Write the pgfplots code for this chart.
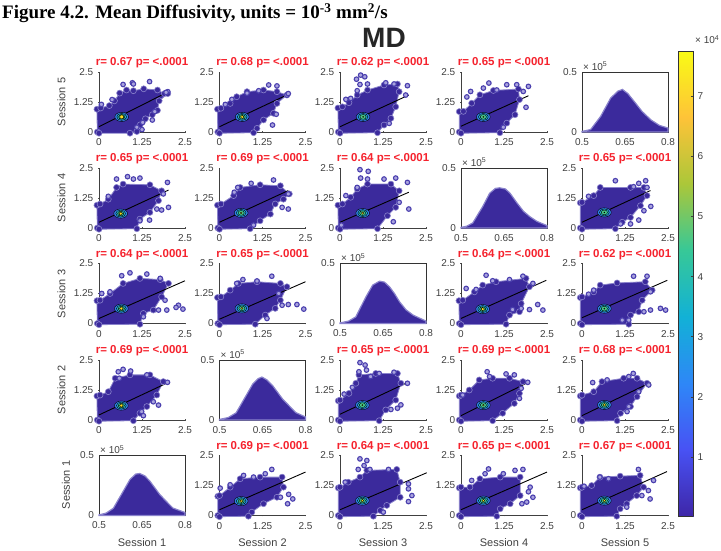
\documentclass[border=0pt]{standalone}
\usepackage{fontspec}
\usepackage{pgfplots}
\pgfplotsset{compat=1.18}
\setmainfont{Liberation Sans}
\newfontfamily\serf{Liberation Serif}
\definecolor{body}{HTML}{3B2A9C}
\definecolor{haze}{HTML}{8A83CC}
\definecolor{ring}{HTML}{4A3FAE}
\definecolor{pale}{HTML}{A9A3DE}
\definecolor{tk}{HTML}{404040}
\definecolor{redt}{HTML}{F5222D}
\definecolor{hb}{HTML}{2F7FE8}
\definecolor{hc}{HTML}{20B8D0}
\definecolor{hg}{HTML}{48C888}
\definecolor{hy}{HTML}{F8E020}
\newcommand\tickf{\fontsize{10}{11}\selectfont}
\pgfplotsset{
 panel/.style={scale only axis,width=86pt,height=60pt,clip=false,anchor=south west,
  tick label style={font=\tickf,text=tk},tick align=inside,major tick length=1.5pt,
  tick style={color=black!70,line width=.5pt},
  xticklabel style={yshift=-2.5pt},yticklabel style={xshift=-1.5pt},
  axis line style={line width=.9pt}},
 sc/.style={panel,axis lines=left,axis line style={-,line width=.9pt,color=black!75},
  xmin=0,xmax=2.5,ymin=0,ymax=2.5,
  xtick={0,1.25,2.5},ytick={0,1.25,2.5},xticklabels={0,1.25,2.5},yticklabels={0,1.25,2.5},
  title style={font=\fontsize{11.5}{13}\selectfont\bfseries,text=redt,yshift=-5.5pt}},
 hs/.style={panel,xmin=0.5,xmax=0.8,ymin=0,ymax=0.5,
  xtick={0.5,0.65,0.8},ytick={0,0.5},xticklabels={0.5,0.65,0.8},yticklabels={0,0.5},
  axis line style={line width=.9pt,color=black!80},xtick pos=bottom,ytick pos=left}
}
% #1 x, #2 y, #3 r, #4 cloud, #5 outliers, #6 line, #7 centre, #8 yellow size
\newcommand\scp[8]{%
\begin{axis}[sc,at={(#1pt,#2pt)},title={r= #3 p= <.0001}]
\addplot[only marks,mark=*,mark size=3pt,mark options={draw=haze,line width=.6pt,fill=body}] coordinates {#4};
\addplot[draw=haze,line width=.8pt,line join=round,fill=body] coordinates {#4} --cycle;
\addplot[only marks,mark=*,mark size=2.3pt,mark options={draw=ring,line width=1.1pt,fill=pale}] coordinates {#5};
\addplot[only marks,mark=*,mark size=4.6pt,mark options={draw=none,fill=hb,xscale=1.5}] coordinates {#7};
\addplot[only marks,mark=*,mark size=3.5pt,mark options={draw=none,fill=hc,xscale=1.4}] coordinates {#7};
\addplot[only marks,mark=*,mark size=2.4pt,mark options={draw=none,fill=hg,xscale=1.3}] coordinates {#7};
\addplot[only marks,mark=*,mark size=#8pt,mark options={draw=none,fill=hy}] coordinates {#7};
\addplot[line width=.9pt,black] coordinates {#6};
\end{axis}}
\newcommand\hsp[3]{%
\begin{axis}[hs,at={(#1pt,#2pt)}]
\addplot[draw=haze,line width=1.2pt,fill=body] coordinates {#3} --cycle;
\node[anchor=south west,font=\fontsize{10}{11}\selectfont,text=tk,inner sep=0pt,yshift=1.5pt,xshift=1pt] at (rel axis cs:0,1) {× 10\textsuperscript{5}};
\end{axis}}
\newcommand\sesl[3]{\node[rotate=90,font=\fontsize{11}{12}\selectfont,text=tk] at (#1pt,#2pt) {Session #3};}
\begin{document}
\begin{tikzpicture}[x=1pt,y=1pt]
\path[use as bounding box] (0,0) rectangle (721,550);
\node[anchor=base west,inner sep=0pt,font=\serf\bfseries\fontsize{19}{21}\selectfont] at (2,531) {Figure 4.2. Mean Diffusivity, units = 10\textsuperscript{-3} mm\textsuperscript{2}/s};
\node[font=\bfseries\fontsize{28}{30}\selectfont,text=black!85] at (384,512) {MD};
% Row 1
\scp{99}{418}{0.67}{(-0.05,0)(-0.06,0.95)(0.05,1.0)(0.3,1.1)(0.45,1.3)(0.6,1.62)(0.8,1.75)(1.0,1.72)(1.3,1.8)(1.7,1.75)(1.9,1.6)(2.0,1.6)(1.75,1.3)(1.7,0.9)(1.55,0.72)(1.35,0.55)(1.2,0.3)(1.1,0.02)(0.9,-0.05)(0,-0.05)}
 {(0.7,1.98)(0.97,2.05)(1.0,2.0)(1.47,2.1)(2.0,1.68)(1.95,1.65)(1.62,0.85)(1.55,0.5)(1.27,0.4)(1.25,0.1)(1.1,0.2)(0.38,1.35)(0.07,1.15)}
 {(0,0.22)(2.02,1.68)}{(0.66,0.63)}{2}
\scp{219.5}{418}{0.68}{(-0.05,0)(-0.06,0.95)(0.04,0.99)(0.31,1.19)(0.5,1.47)(0.8,1.68)(1.28,1.75)(1.67,1.68)(1.96,1.54)(1.67,1.19)(1.57,0.78)(1.28,0.5)(1.09,0.15)(0.99,-0.03)(0,-0.05)}
 {(1.43,1.96)(0.8,1.62)(0.36,1.36)(1.54,0.29)(1.65,0.74)(1.96,1.54)(0.17,1.15)(1.14,1.72)(1.67,1.92)(2.0,1.6)}
 {(0,0.22)(2.0,1.57)}{(0.66,0.63)}{1.7}
\scp{340}{418}{0.62}{(-0.05,0)(-0.06,1.0)(0.07,1.05)(0.26,1.22)(0.5,1.54)(0.8,1.75)(1.28,1.96)(1.67,2.0)(1.72,1.68)(1.62,1.05)(1.48,0.57)(1.28,0.29)(1.09,-0.03)(0,-0.05)}
 {(0.48,2.2)(0.6,2.37)(0.72,2.3)(0.8,2.0)(0.58,1.98)(0.5,1.72)(1.33,2.05)(1.57,2.0)(1.96,1.93)(1.91,1.54)(1.43,0.36)(0.17,1.36)(0.31,1.4)}
 {(0,0.22)(2.0,1.54)}{(0.67,0.63)}{0.6}
\scp{461}{418}{0.65}{(-0.05,0)(-0.05,0.85)(0.07,0.86)(0.31,1.2)(0.55,1.55)(0.94,1.73)(1.67,1.79)(1.7,1.35)(1.57,0.72)(1.33,0.37)(1.13,-0.03)(0,-0.05)}
 {(0.81,2.04)(0.28,1.69)(0.17,1.46)(0.65,1.83)(1.04,1.75)(1.33,1.97)(1.62,1.97)(1.96,1.9)(1.81,1.69)(1.89,1.03)(1.23,0.2)}
 {(0,0.24)(1.96,1.51)}{(0.65,0.63)}{0.7}
\hsp{582}{418}{(0.5,0)(0.5,0.005)(0.53,0.02)(0.565,0.13)(0.6,0.283)(0.625,0.34)(0.641,0.355)(0.66,0.32)(0.682,0.255)(0.71,0.17)(0.741,0.10)(0.77,0.055)(0.8,0.033)(0.8,0)}
% Row 2
\scp{99}{322}{0.65}{(-0.05,0)(-0.06,0.95)(0.03,1.0)(0.27,1.2)(0.51,1.69)(0.7,1.83)(1.48,1.8)(1.82,1.55)(1.73,1.14)(1.48,0.65)(1.19,0.37)(1.1,-0.03)(0,-0.05)}
 {(0.51,2.04)(0.83,2.14)(1.0,2.04)(1.19,2.08)(1.99,1.9)(2.02,0.86)(1.82,0.75)(1.68,0.79)(1.47,0.33)(0.27,1.32)(1.87,1.42)(1.19,0.3)}
 {(0,0.24)(2.02,1.58)}{(0.63,0.6)}{1.8}
\scp{219.5}{322}{0.69}{(-0.05,0)(-0.06,0.95)(0.04,1.0)(0.41,1.35)(0.6,1.69)(1.18,1.8)(1.77,1.76)(2.03,1.42)(1.86,1.2)(1.62,1.0)(1.48,0.58)(1.18,0.3)(0.89,-0.03)(0,-0.05)}
 {(1.57,2.0)(0.92,1.86)(0.53,1.69)(2.0,0.79)(1.82,0.86)(2.0,1.42)(0.99,0.12)(0.43,1.49)}
 {(0,0.24)(2.0,1.56)}{(0.63,0.63)}{0.9}
\scp{340}{322}{0.64}{(-0.05,0)(-0.06,0.95)(0.07,1.0)(0.31,1.28)(0.5,1.63)(0.8,1.83)(1.48,1.83)(1.72,1.55)(1.62,0.86)(1.38,0.51)(1.09,-0.03)(0,-0.05)}
 {(0.58,2.43)(0.82,2.36)(0.6,2.08)(0.8,2.04)(0.5,1.69)(1.28,2.04)(1.62,2.08)(1.96,1.9)(2.0,0.79)(1.55,0.26)(0.04,0.12)(0.17,1.35)(1.72,1.07)}
 {(0,0.24)(2.0,1.49)}{(0.66,0.62)}{1.3}
\hsp{461}{322}{(0.5,0)(0.5,0.005)(0.52,0.015)(0.541,0.042)(0.576,0.18)(0.6,0.29)(0.62,0.33)(0.635,0.335)(0.655,0.325)(0.671,0.29)(0.695,0.21)(0.718,0.139)(0.74,0.095)(0.765,0.055)(0.8,0.02)(0.8,0)}
\scp{582}{322}{0.65}{(-0.05,0)(-0.05,1.05)(0,1.07)(0.34,1.35)(0.53,1.69)(1.41,1.69)(1.8,1.69)(1.89,1.35)(1.7,0.93)(1.41,0.44)(1.17,0.24)(0.97,-0.03)(0,-0.05)}
 {(0.97,1.97)(1.85,1.97)(1.65,1.86)(2.0,0.9)(1.8,0.72)(1.65,0.33)(1.41,0.17)(1.12,0.17)(0.19,1.32)(1.5,1.72)(1.89,1.69)}
 {(0,0.24)(1.99,1.56)}{(0.65,0.65)}{0.5}
% Row 3
\scp{99}{226.5}{0.64}{(-0.05,0)(-0.06,0.95)(0.03,0.97)(0.32,1.25)(0.7,1.67)(1.19,1.88)(1.78,1.83)(2.02,1.67)(1.82,1.11)(1.58,0.56)(1.29,0.42)(1.19,-0.03)(0,-0.05)}
 {(0.66,1.99)(0.9,2.11)(1.39,2.06)(1.78,1.88)(2.31,0.76)(2.24,0.67)(2.44,0.6)(1.97,0.56)(1.73,0.56)(1.92,0.97)(1.29,0.28)(0.32,1.32)(0.08,1.25)}
 {(0,0.21)(2.5,1.78)}{(0.65,0.62)}{1.8}
\scp{219.5}{226.5}{0.65}{(-0.05,0)(-0.06,1.08)(0.04,1.11)(0.31,1.39)(0.55,1.67)(1.09,1.74)(1.77,1.67)(1.96,1.53)(1.77,0.97)(1.62,0.63)(1.33,0.35)(1.04,-0.03)(0,-0.05)}
 {(0.5,1.67)(0.68,1.83)(1.52,1.97)(1.09,1.77)(2.25,0.79)(2.45,0.6)(2.0,0.79)(1.82,0.76)(1.38,0.21)(1.72,1.25)}
 {(0,0.18)(2.5,1.74)}{(0.65,0.63)}{1.1}
\hsp{340}{226.5}{(0.5,0)(0.5,0.005)(0.53,0.02)(0.555,0.055)(0.59,0.22)(0.614,0.32)(0.638,0.353)(0.655,0.345)(0.673,0.305)(0.69,0.25)(0.708,0.18)(0.73,0.115)(0.755,0.07)(0.8,0.02)(0.8,0)}
\scp{461}{226.5}{0.64}{(-0.05,0)(-0.06,0.95)(0.05,0.97)(0.39,1.32)(0.63,1.6)(1.02,1.74)(1.89,1.88)(1.99,1.53)(1.75,0.83)(1.7,0.49)(1.41,0.35)(1.31,-0.03)(0,-0.05)}
 {(0.73,2.01)(0.92,1.78)(1.8,1.97)(1.41,1.83)(0.15,1.46)(0.44,1.42)(2.23,0.79)(2.38,0.56)(1.99,0.58)(1.75,0.63)(1.5,0.58)(2.09,1.67)}
 {(0,0.21)(2.48,1.8)}{(0.63,0.6)}{1.8}
\scp{582}{226.5}{0.62}{(-0.05,0)(-0.05,1.08)(0,1.11)(0.34,1.32)(0.53,1.6)(1.02,1.69)(1.84,1.74)(2.04,1.39)(1.75,0.97)(1.65,0.49)(1.41,0.35)(1.36,-0.03)(0,-0.05)}
 {(1.5,1.97)(1.89,1.97)(0.34,1.39)(0.19,1.22)(2.28,0.63)(2.43,0.56)(1.99,0.56)(1.8,0.49)(1.17,0.14)(1.36,0.14)(1.99,1.32)}
 {(0,0.24)(2.48,1.8)}{(0.65,0.62)}{0.6}
% Row 4
\scp{99}{130}{0.69}{(-0.05,0)(-0.06,1.0)(0.03,1.04)(0.27,1.18)(0.47,1.74)(0.9,1.88)(1.48,1.88)(1.87,1.6)(1.68,1.04)(1.39,0.56)(1.19,0.28)(1.0,-0.03)(0,-0.05)}
 {(0.56,2.01)(0.7,2.11)(0.92,2.04)(0.59,1.74)(1.99,1.57)(1.73,0.62)(1.58,0.76)(1.24,0.35)(1.29,0.18)(1.39,1.88)}
 {(0,0.21)(2.02,1.57)}{(0.65,0.6)}{1.8}
\hsp{219.5}{130}{(0.5,0)(0.5,0.005)(0.53,0.02)(0.558,0.06)(0.592,0.2)(0.616,0.30)(0.635,0.345)(0.648,0.358)(0.665,0.335)(0.685,0.288)(0.72,0.175)(0.766,0.062)(0.8,0.025)(0.8,0)}
\scp{340}{130}{0.65}{(-0.05,0)(-0.05,0.8)(0,0.83)(0.26,1.11)(0.46,1.53)(0.55,1.88)(1.04,1.94)(1.67,1.94)(1.77,1.53)(1.62,0.83)(1.33,0.42)(1.14,-0.03)(0,-0.05)}
 {(0.58,2.39)(0.73,2.29)(0.77,2.08)(0.55,2.01)(0.89,1.81)(1.14,1.94)(1.57,1.99)(1.96,1.53)(1.77,0.63)(1.67,0.49)(1.48,0.44)(0.36,1.36)(0.12,1.08)}
 {(0,0.24)(1.96,1.56)}{(0.65,0.62)}{0.7}
\scp{461}{130}{0.69}{(-0.05,0)(-0.05,1.0)(0,1.04)(0.24,1.25)(0.53,1.67)(0.92,1.74)(1.41,1.74)(1.8,1.6)(1.7,1.11)(1.55,0.69)(1.21,0.28)(0.92,-0.03)(0,-0.05)}
 {(0.76,2.01)(0.83,1.81)(1.31,1.92)(1.55,1.88)(1.94,1.57)(1.75,1.32)(0.05,1.04)(1.7,0.9)}
 {(0,0.18)(1.94,1.56)}{(0.65,0.62)}{0.9}
\scp{582}{130}{0.68}{(-0.05,0)(-0.05,1.0)(0,1.04)(0.34,1.18)(0.58,1.6)(1.21,1.74)(1.6,1.74)(1.89,1.53)(1.6,0.97)(1.41,0.56)(1.12,0.28)(1.02,-0.03)(0,-0.05)}
 {(0.31,1.56)(0.73,1.67)(1.49,1.94)(1.36,1.81)(1.94,1.46)(1.65,1.18)(1.36,0.56)(1.31,0.35)}
 {(0,0.18)(1.99,1.56)}{(0.65,0.63)}{1.4}
% Row 5
\hsp{99}{34.5}{(0.5,0)(0.5,0.005)(0.525,0.02)(0.55,0.06)(0.584,0.2)(0.608,0.30)(0.628,0.345)(0.642,0.35)(0.66,0.33)(0.677,0.288)(0.712,0.175)(0.74,0.105)(0.758,0.062)(0.8,0.025)(0.8,0)}
\scp{219.5}{34.5}{0.69}{(-0.05,0)(-0.05,0.8)(0,0.83)(0.31,1.18)(0.6,1.53)(1.18,1.6)(1.82,1.6)(1.86,1.18)(1.67,0.76)(1.28,0.49)(0.94,0.14)(0.84,-0.03)(0,-0.05)}
 {(1.52,1.92)(1.33,1.74)(0.7,1.67)(0.31,1.28)(0.02,1.14)(2.01,0.88)(2.13,0.69)(1.98,0.49)(1.77,0.76)(0.99,1.6)}
 {(0,0.24)(2.5,1.81)}{(0.63,0.6)}{1.5}
\scp{340}{34.5}{0.64}{(-0.05,0)(-0.05,1.15)(0,1.18)(0.24,1.39)(0.58,1.6)(0.78,1.88)(1.65,1.92)(1.75,1.39)(1.75,0.76)(1.36,0.42)(1.17,0.21)(0.97,-0.03)(0,-0.05)}
 {(0.58,2.36)(0.78,2.29)(0.7,2.08)(0.53,1.92)(0.87,1.92)(1.41,1.92)(1.99,1.32)(2.09,0.83)(1.99,0.58)(1.26,0.14)(0.15,1.39)(1.99,1.11)}
 {(0,0.24)(2.52,1.78)}{(0.65,0.62)}{1.4}
\scp{461}{34.5}{0.65}{(-0.05,0)(-0.05,1.15)(0,1.18)(0.26,1.18)(0.55,1.53)(1.14,1.6)(1.72,1.6)(1.72,0.83)(1.43,0.49)(1.14,0.28)(1.04,-0.03)(0,-0.05)}
 {(0.8,1.94)(0.7,1.74)(0.31,1.46)(1.23,1.74)(1.57,1.88)(1.8,1.92)(2.01,1.18)(2.09,0.76)(1.91,0.56)(1.77,0.49)(1.96,0.99)}
 {(0,0.24)(2.5,1.81)}{(0.65,0.62)}{1.3}
\scp{582}{34.5}{0.67}{(-0.05,0)(-0.05,1.15)(0,1.18)(0.28,1.25)(0.52,1.6)(1.11,1.64)(1.69,1.67)(1.79,1.18)(1.59,0.83)(1.3,0.49)(1.11,0.28)(1.01,-0.03)(0,-0.05)}
 {(1.64,1.92)(0.52,1.6)(0.06,1.22)(2.08,1.46)(1.93,1.04)(1.98,0.69)(1.74,0.83)(1.3,0.35)(0.77,1.53)}
 {(0,0.24)(2.47,1.83)}{(0.65,0.62)}{1.4}
% Session labels
\sesl{61.5}{448}{5}\sesl{61.5}{352}{4}\sesl{61.5}{256}{3}\sesl{61.5}{160}{2}\sesl{66}{65}{1}
\foreach \xx/\nn in {142/1,262.5/2,383/3,504/4,625/5}{
 \node[font=\fontsize{11}{12}\selectfont,text=tk] at (\xx pt,7pt) {Session \nn};}
% Colorbar
\begin{axis}[scale only axis,width=15pt,height=465pt,at={(678pt,34pt)},anchor=south west,
 view={0}{90},xmin=0,xmax=1,ymin=0.02,ymax=7.75,xtick=\empty,
 ytick={1,2,3,4,5,6,7},yticklabel pos=right,ytick pos=right,tick align=inside,major tick length=2pt,
 tick style={color=black!75,line width=.5pt},
 yticklabels={1,2,3,4,5,6,7},
 tick label style={font=\tickf,text=tk},yticklabel style={xshift=1pt},
 axis line style={line width=.9pt,color=black!80},axis on top,
 colormap={parula}{rgb255(0cm)=(62,38,168) rgb255(1cm)=(72,82,244) rgb255(2cm)=(46,135,247) rgb255(3cm)=(18,177,214) rgb255(4cm)=(55,200,151) rgb255(5cm)=(171,199,57) rgb255(6cm)=(254,195,56) rgb255(7cm)=(249,251,21)}]
\addplot3[surf,shader=interp,point meta=y,mesh/cols=2] coordinates {(0,0.02,0)(1,0.02,0)(0,7.75,0)(1,7.75,0)};
\end{axis}
\node[anchor=base west,inner sep=0pt,font=\fontsize{10}{11}\selectfont,text=tk] at (695,506) {× 10\textsuperscript{4}};
\end{tikzpicture}
\end{document}
